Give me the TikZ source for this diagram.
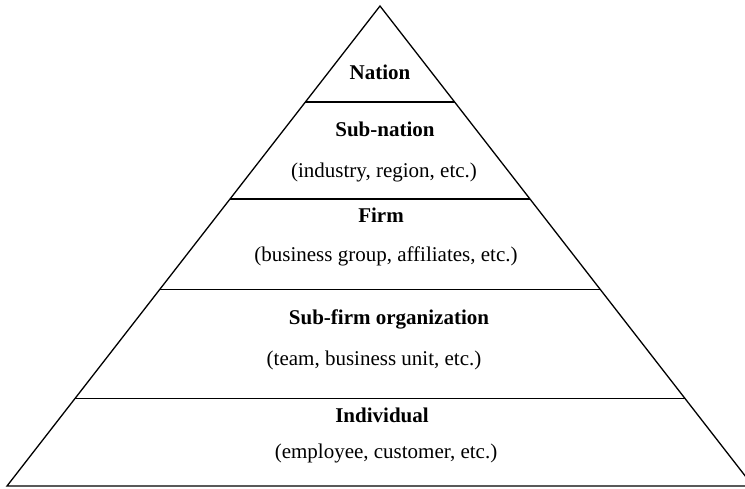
\documentclass[tikz,border=0pt]{standalone}
\usepackage{fontspec}
\setmainfont{Liberation Serif}
\usetikzlibrary{calc}
\begin{document}
\begin{tikzpicture}[x=1pt,y=-1pt,
  edge/.style={line width=1.3pt,line join=miter},
  title/.style={anchor=base,inner sep=0pt,font=\fontsize{21}{25}\selectfont\bfseries},
  note/.style={anchor=base,inner sep=0pt,font=\fontsize{21}{25}\selectfont}]
\useasboundingbox (0,0) rectangle (745,489);
\clip (0,0) rectangle (745,489);
% pyramid outline
\coordinate (apex) at (380,6);
\coordinate (bl) at (7,486);
\coordinate (br) at (753,486);
\draw[edge] (bl) -- (apex) -- (br) -- cycle;
% tier dividers
\foreach \t/\n in {0.8/a,0.598/b,0.410/c,0.183/d}{
  \coordinate (l\n) at ($(bl)!\t!(apex)$);
  \coordinate (r\n) at ($(br)!\t!(apex)$);
  \draw[edge] (l\n) -- (r\n);
}
% tier labels
\node[title] (nation) at (380,80) {Nation};
\node[title] (subnation) at (385,137) {Sub-nation};
\node[note] (subnationex) at (384,178) {(industry, region, etc.)};
\node[title] (firm) at (381,223) {Firm};
\node[note] (firmex) at (386,262) {(business group, affiliates, etc.)};
\node[title] (subfirm) at (389,324) {Sub-firm organization};
\node[note] (subfirmex) at (374,365) {(team, business unit, etc.)};
\node[title] (indiv) at (382,422) {Individual};
\node[note] (indivex) at (386,458) {(employee, customer, etc.)};
\end{tikzpicture}
\end{document}
